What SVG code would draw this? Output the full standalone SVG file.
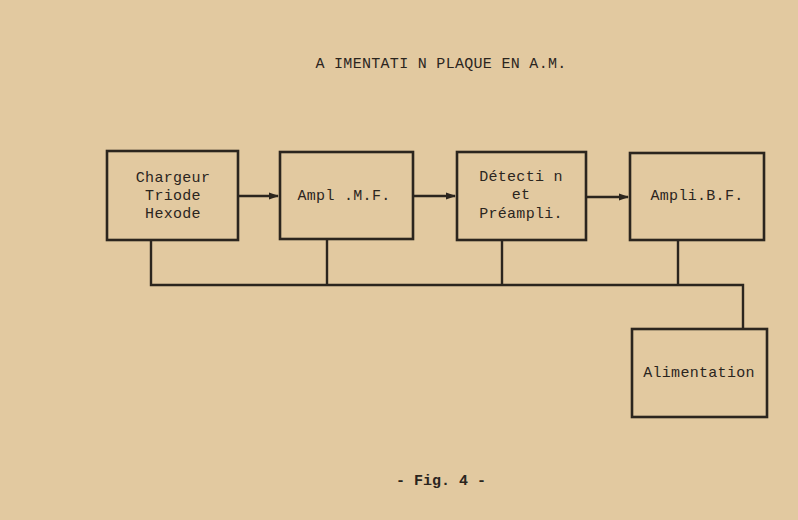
<svg xmlns="http://www.w3.org/2000/svg" width="798" height="520" viewBox="0 0 798 520">
<style>
.bx{fill:none;stroke:#2b251e;stroke-width:2.6}
.ln{fill:none;stroke:#2b251e;stroke-width:2.4}
.t{font-family:"Liberation Mono","DejaVu Sans Mono",monospace;font-size:15px;letter-spacing:0.3px;fill:#2b251e;text-anchor:middle}
.f{font-family:"Liberation Mono","DejaVu Sans Mono",monospace;font-size:15px;font-weight:bold;fill:#2b251e;text-anchor:middle}
</style>
<defs>
<marker id="ah" markerWidth="10" markerHeight="8" refX="9" refY="4" orient="auto" markerUnits="userSpaceOnUse">
<path d="M0,0.5 L10,4 L0,7.5 Z" fill="#2b251e"/>
</marker>
</defs>
<rect width="798" height="520" fill="#e2c9a0"/>
<text class="t" x="441" y="68">A IMENTATI N PLAQUE EN A.M.</text>
<g id="connectors">
<line class="ln" x1="238" y1="196" x2="278" y2="196" marker-end="url(#ah)"/>
<line class="ln" x1="413" y1="196" x2="455" y2="196" marker-end="url(#ah)"/>
<line class="ln" x1="586" y1="197" x2="628" y2="197" marker-end="url(#ah)"/>
<polyline class="ln" points="151,240 151,285 743,285 743,329"/>
<line class="ln" x1="327" y1="239" x2="327" y2="285"/>
<line class="ln" x1="502" y1="240" x2="502" y2="285"/>
<line class="ln" x1="678" y1="240" x2="678" y2="285"/>
</g>
<g id="chargeur">
<rect class="bx" x="107" y="151" width="131" height="89"/>
<text class="t" x="173" y="182">Chargeur</text>
<text class="t" x="173" y="200">Triode</text>
<text class="t" x="173" y="218">Hexode</text>
</g>
<g id="ampli-mf">
<rect class="bx" x="280" y="152" width="133" height="87"/>
<text class="t" x="344" y="200">Ampl .M.F.</text>
</g>
<g id="detection">
<rect class="bx" x="457" y="152" width="129" height="88"/>
<text class="t" x="521" y="181">Détecti n</text>
<text class="t" x="521" y="199">et</text>
<text class="t" x="521" y="218">Préampli.</text>
</g>
<g id="ampli-bf">
<rect class="bx" x="630" y="153" width="134" height="87"/>
<text class="t" x="697" y="200">Ampli.B.F.</text>
</g>
<g id="alimentation">
<rect class="bx" x="632" y="329" width="135" height="88"/>
<text class="t" x="699" y="377">Alimentation</text>
</g>
<text class="f" x="441" y="485">- Fig. 4 -</text>
</svg>
